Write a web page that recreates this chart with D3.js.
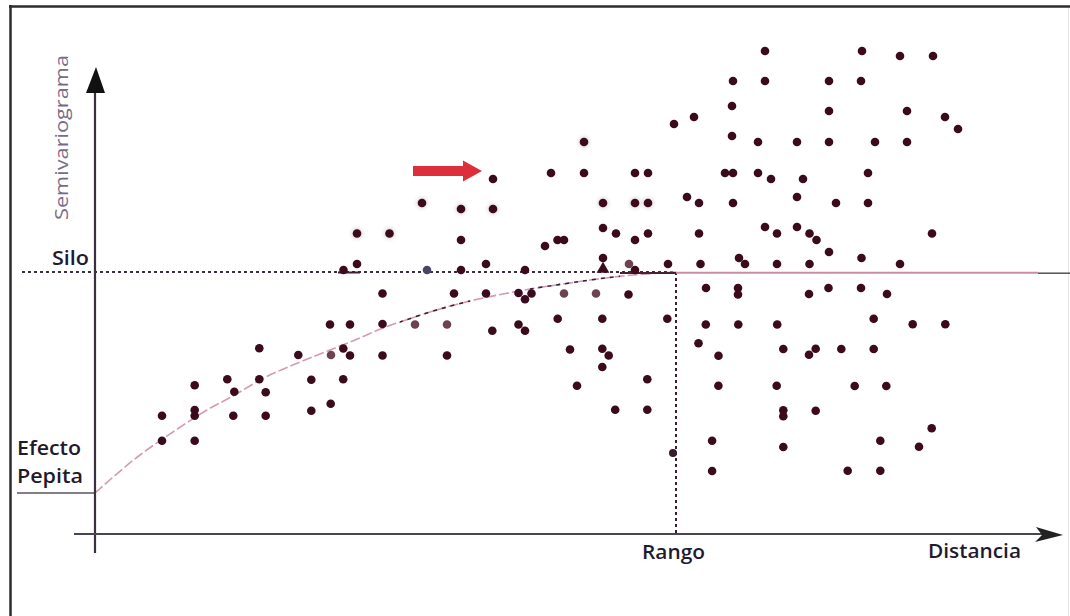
<!DOCTYPE html>
<html lang="es">
<head>
    <meta charset="UTF-8">
    <title>Semivariograma</title>
    <script src="https://d3js.org/d3.v7.min.js"></script>
    <style>
        body { margin: 0; background: #fff; }
        svg { display: block; }
        .label { font-family: "Open Sans", "Noto Sans", sans-serif; font-weight: 600; fill: #1f1a2e; font-size: 20px; }
    </style>
</head>
<body>
<svg id="chart" width="1070" height="616"></svg>
<script>
    // Key values of the model (distance, semivariogram units)
    const nugget = 41;
    const sill = 262;
    const rangeDist = 581;

    // Fitted model curve
    const modelCurve = [
        [0, 41], [45, 79], [78, 102], [112, 124], [138, 138], [165, 154], [205, 172],
        [235, 184], [260, 194], [288, 206], [308, 213], [335, 222], [375, 233],
        [408, 240], [435, 245], [468, 250], [495, 254], [538, 259], [581, 262]
    ];

    // Experimental semivariogram points
    const points = [
        [670, 483], [767, 483], [805, 478], [838, 478],
        [638, 453], [670, 453], [734, 453], [766, 453],
        [637, 428], [734, 423], [812, 423], [599, 417], [850, 417], [579, 410], [863, 405], [637, 398],
        [663, 392], [702, 392], [734, 392], [780, 392], [812, 392],
        [456, 361], [489, 361], [540, 361], [553, 361], [630, 361], [638, 361], [663, 361], [773, 361],
        [398, 355], [676, 355], [708, 355], [592, 337], [702, 337],
        [604, 331], [638, 331], [741, 331], [773, 331],
        [508, 306], [670, 307], [702, 307],
        [521, 300.5], [553, 300.5], [604, 300.5], [682, 300.5], [714.5, 300.5], [837, 300.5],
        [366, 294], [462.5, 294], [469, 294], [540, 294], [721.5, 294],
        [450, 288], [734, 282], [508, 276], [644, 276], [766.5, 276],
        [262, 270], [391, 270], [573, 270], [605.5, 270], [650, 270], [682, 270], [714.5, 270], [805, 270],
        [248.5, 264], [366, 264], [430, 264], [540, 264],
        [611, 246], [643, 246], [733.5, 246], [766, 246],
        [287.5, 240.5], [359, 240.5], [391, 240.5], [423.5, 241], [436.5, 240.5], [533.5, 239.5],
        [643, 239.5], [714, 240], [792, 240], [430, 234.7],
        [462.7, 215.3], [507.3, 215.3], [572.3, 215.3], [778.7, 215.3],
        [235, 209.5], [255, 209.5], [287.5, 210], [423.5, 209.5], [610.8, 209.5], [643.3, 209.5],
        [682.2, 209.5], [817.7, 209.7], [850.3, 209.7],
        [397.3, 203.3], [430, 203.3], [603.5, 190.8],
        [164.3, 185.7], [248.3, 185.5], [475, 184.5], [507.3, 185.3], [688.3, 185], [720.7, 185.3],
        [746.3, 185], [778.7, 185],
        [203.3, 179], [255, 178.5], [287.5, 178.5], [352, 178.5], [513.7, 178.5], [623.5, 178.2], [714, 179.3],
        [507.3, 167],
        [132.3, 154.7], [164.3, 154.7], [216.3, 154.3], [248.2, 154.7], [552.3, 154.7],
        [99.7, 148.7], [482, 148.3], [623.4, 148.2], [681.7, 148.2], [759.7, 148], [791.3, 148],
        [139.3, 142.3], [170.7, 141.7], [235.7, 130.3],
        [99.7, 124], [216.3, 123.3], [520.2, 124.3], [552.3, 124.3], [688.3, 123.7], [720.7, 123.3],
        [67, 118.3], [99.7, 118.3], [138.3, 118.3], [170.7, 118.3], [688.3, 117.7],
        [836.7, 105.7],
        [67, 93.3], [99.7, 93.3], [617.1, 93.2], [785.3, 93.3],
        [688.3, 87], [824, 87.3],
        [617.1, 63], [752.7, 63.3], [785.3, 63.3]
    ];
    // points printed with a soft halo
    const haloPoints = [
        [489, 392], [327, 331], [508, 331], [540, 331], [553, 331],
        [366, 325], [398, 325], [262, 300.5], [294.5, 300.5]
    ];
    // lighter points
    const faintPoints = [[534, 270], [469, 240.5], [501, 240.5], [320, 209.5], [352, 209.5], [236, 179]];
    const bluePoints = [[332, 264]];
    const trianglePoints = [[508, 264]];
    const edgePoints = [[578, 81]];

    const svg = d3.select("#chart");

    const x = d3.scaleLinear().domain([0, 967]).range([95, 1062]);
    const y = d3.scaleLinear().domain([0, 464]).range([534, 70]);

    // frame
    svg.append("line").attr("x1", 9).attr("x2", 1070).attr("y1", 6.5).attr("y2", 6.5)
        .attr("stroke", "#2e2a2e").attr("stroke-width", 2.5);
    svg.append("line").attr("x1", 10.5).attr("x2", 10.5).attr("y1", 5).attr("y2", 616)
        .attr("stroke", "#2e2a2e").attr("stroke-width", 2.5);
    svg.append("line").attr("x1", 1068.5).attr("x2", 1068.5).attr("y1", 8).attr("y2", 616)
        .attr("stroke", "#e6e6e6").attr("stroke-width", 1);

    const defs = svg.append("defs");
    const halo = defs.append("radialGradient").attr("id", "halo");
    halo.append("stop").attr("offset", "40%").attr("stop-color", "#a0a0a0");
    halo.append("stop").attr("offset", "100%").attr("stop-color", "#fff").attr("stop-opacity", 0);

    // sill line (dotted)
    svg.append("line")
        .attr("x1", 22).attr("x2", x(rangeDist))
        .attr("y1", y(sill)).attr("y2", y(sill))
        .attr("stroke", "#3a2f45").attr("stroke-width", 1.8)
        .attr("stroke-dasharray", "3,3");
    svg.append("line")
        .attr("x1", x(243)).attr("x2", x(265))
        .attr("y1", y(sill) + 0.5).attr("y2", y(sill) + 0.5)
        .attr("stroke", "#3a1f35").attr("stroke-width", 2);

    // nugget line
    svg.append("line")
        .attr("x1", 17).attr("x2", x(0))
        .attr("y1", y(nugget)).attr("y2", y(nugget))
        .attr("stroke", "#5a5560").attr("stroke-width", 1.5);

    // range line
    svg.append("line")
        .attr("x1", x(rangeDist)).attr("x2", x(rangeDist))
        .attr("y1", y(sill)).attr("y2", y(0))
        .attr("stroke", "#3a1f30").attr("stroke-width", 2)
        .attr("stroke-dasharray", "3,3");

    // model curve
    const line = d3.line().x(d => x(d[0])).y(d => y(d[1])).curve(d3.curveMonotoneX);
    svg.append("path").datum(modelCurve)
        .attr("d", line).attr("fill", "none")
        .attr("stroke", "#d69aae").attr("stroke-width", 1.6)
        .attr("stroke-dasharray", "10,3");

    // darker dotted parts of the curve
    [[305, 375], [435, 525]].forEach((seg, i) => {
        defs.append("clipPath").attr("id", "seg" + i)
            .append("rect")
            .attr("x", x(seg[0])).attr("width", x(seg[1]) - x(seg[0]))
            .attr("y", 0).attr("height", 616);
        svg.append("path").datum(modelCurve)
            .attr("d", line).attr("fill", "none")
            .attr("clip-path", `url(#seg${i})`)
            .attr("stroke", "#3a2035").attr("stroke-width", 1.6)
            .attr("stroke-dasharray", "4,5");
    });
    svg.append("line")
        .attr("x1", x(525)).attr("x2", x(rangeDist))
        .attr("y1", y(sill) + 1).attr("y2", y(sill) + 1)
        .attr("stroke", "#4a2035").attr("stroke-width", 2);

    // sill beyond the range
    svg.append("line")
        .attr("x1", x(rangeDist)).attr("x2", 1038)
        .attr("y1", y(sill) + 0.7).attr("y2", y(sill) + 0.7)
        .attr("stroke", "#c98ea2").attr("stroke-width", 2);
    svg.append("line")
        .attr("x1", 1038).attr("x2", 1070)
        .attr("y1", y(sill) + 1.2).attr("y2", y(sill) + 1.2)
        .attr("stroke", "#555055").attr("stroke-width", 1.5);

    // axes
    svg.append("line")
        .attr("x1", x(0)).attr("x2", x(0))
        .attr("y1", y(-19)).attr("y2", y(455))
        .attr("stroke", "#3a3040").attr("stroke-width", 2.2);
    svg.append("path")
        .attr("d", `M${x(0) + 1},${y(467)} L${x(0) + 10},${y(441)} L${x(0) - 9},${y(441)} Z`)
        .attr("fill", "#111");
    svg.append("line")
        .attr("x1", x(-21)).attr("x2", x(955))
        .attr("y1", y(0)).attr("y2", y(0))
        .attr("stroke", "#4a4458").attr("stroke-width", 2);
    svg.append("path")
        .attr("d", `M${x(941)},${y(0) - 7} L${x(968)},${y(0) + 1} L${x(940)},${y(0) + 8} L${x(947)},${y(0) + 1} Z`)
        .attr("fill", "#222");

    // points
    const r = 4.3;
    svg.append("g").selectAll("circle").data(haloPoints).join("circle")
        .attr("cx", d => x(d[0])).attr("cy", d => y(d[1])).attr("r", 10)
        .attr("fill", "url(#halo)").attr("opacity", 0.3);
    svg.append("g").selectAll("circle").data(points.concat(haloPoints)).join("circle")
        .attr("cx", d => x(d[0])).attr("cy", d => y(d[1])).attr("r", r)
        .attr("fill", "#3b0a1c");
    svg.append("g").selectAll("circle").data(faintPoints).join("circle")
        .attr("cx", d => x(d[0])).attr("cy", d => y(d[1])).attr("r", r)
        .attr("fill", "#6c4352");
    svg.append("g").selectAll("circle").data(bluePoints).join("circle")
        .attr("cx", d => x(d[0])).attr("cy", d => y(d[1])).attr("r", r)
        .attr("fill", "#4a4562");
    svg.append("g").selectAll("path").data(trianglePoints).join("path")
        .attr("transform", d => `translate(${x(d[0])},${y(d[1]) - 1})`)
        .attr("d", d3.symbol(d3.symbolTriangle, 70))
        .attr("fill", "#3b0a1c");
    svg.append("g").selectAll("circle").data(edgePoints).join("circle")
        .attr("cx", d => x(d[0])).attr("cy", d => y(d[1])).attr("r", 4)
        .attr("fill", "#3a1a2e");

    // red arrow
    svg.append("path")
        .attr("d", "M413,166 L463,166 L463,160.5 L482,171 L463,181.5 L463,176 L413,176 Z")
        .attr("fill", "#dc2f3b");

    // labels
    svg.append("text").attr("class", "label")
        .attr("transform", "translate(68,220) rotate(-90)")
        .attr("textLength", 165).attr("lengthAdjust", "spacingAndGlyphs")
        .style("font-weight", 400).style("font-size", "19px").style("fill", "#786b8a")
        .text("Semivariograma");
    const labels = [
        { t: "Silo", x: 52, y: 265, w: 37 },
        { t: "Efecto", x: 17, y: 455, w: 64 },
        { t: "Pepita", x: 17, y: 483, w: 66 },
        { t: "Rango", x: 642, y: 559, w: 63 },
        { t: "Distancia", x: 928, y: 557.5, w: 93 }
    ];
    svg.selectAll("text.lab").data(labels).join("text")
        .attr("class", "label lab")
        .attr("x", d => d.x).attr("y", d => d.y)
        .attr("textLength", d => d.w).attr("lengthAdjust", "spacingAndGlyphs")
        .text(d => d.t);
</script>
</body>
</html>
